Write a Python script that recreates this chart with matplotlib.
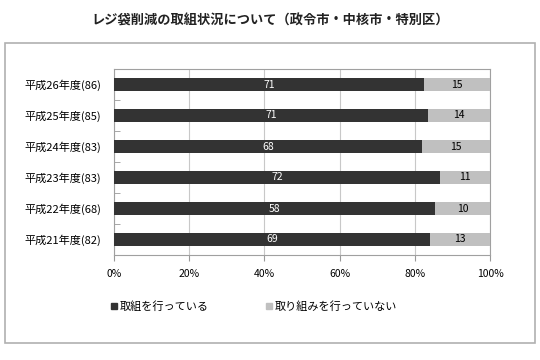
import matplotlib.pyplot as plt
from matplotlib.patches import Rectangle
from matplotlib.lines import Line2D

plt.rcParams['font.family'] = ['Noto Sans CJK JP', 'DejaVu Sans']

# data, top to bottom as in the chart
years = ["平成26年度(86)", "平成25年度(85)", "平成24年度(83)",
         "平成23年度(83)", "平成22年度(68)", "平成21年度(82)"]
doing = [71, 71, 68, 72, 58, 69]
not_doing = [15, 14, 15, 11, 10, 13]
series_names = ["取組を行っている", "取り組みを行っていない"]

DARK = "#333333"
LIGHT = "#c0c0c0"


def main():
    fig = plt.figure(figsize=(5.4, 3.6), dpi=100)
    fig.patches.append(Rectangle((5 / 540, 1 - 343 / 360), 530 / 540, 300 / 360,
                                 transform=fig.transFigure, fill=False,
                                 edgecolor="#b0b0b0", linewidth=1.2))
    fig.text(0.5, 1 - 21 / 360, "レジ袋削減の取組状況について（政令市・中核市・特別区）",
             ha="center", va="center", fontsize=9.5, fontweight="bold", color="#222222")

    ax = fig.add_axes([114 / 540, 1 - 255 / 360, 376 / 540, 186 / 360])

    n = len(years)
    ypos = list(range(n))[::-1]
    total = [a + b for a, b in zip(doing, not_doing)]
    p1 = [a / t * 100 for a, t in zip(doing, total)]
    p2 = [b / t * 100 for b, t in zip(not_doing, total)]

    ax.barh(ypos, p1, height=0.4, color=DARK, zorder=3)
    ax.barh(ypos, p2, left=p1, height=0.4, color=LIGHT, zorder=3)
    for y, a, b, v1, v2 in zip(ypos, p1, p2, doing, not_doing):
        ax.text(a / 2, y, str(v1), ha="center", va="center", color="white", fontsize=7.5, zorder=4)
        ax.text(a + b / 2, y, str(v2), ha="center", va="center", color="black", fontsize=7.5, zorder=4)

    ax.set_xlim(0, 100)
    ax.set_ylim(-0.5, n - 0.5)
    ax.set_xticks([0, 20, 40, 60, 80, 100])
    ax.set_xticklabels([f"{v}%" for v in [0, 20, 40, 60, 80, 100]], fontsize=7.5)
    ax.set_yticks(ypos)
    ax.set_yticklabels(years, fontsize=8)
    ax.set_yticks([i + 0.5 for i in range(n - 1)], minor=True)
    ax.tick_params(axis="y", which="major", length=0, pad=9)
    ax.tick_params(axis="y", which="minor", length=4, color="#999999", direction="in")
    ax.tick_params(axis="x", length=4, color="#999999", pad=6)
    ax.grid(axis="x", color="#c8c8c8", linewidth=0.8, zorder=0)
    for s in ax.spines.values():
        s.set_color("#a0a0a0")

    handles = [Line2D([], [], marker="s", linestyle="", color=c, markersize=5)
               for c in (DARK, LIGHT)]
    fig.legend(handles, series_names, loc="center left", ncol=2, frameon=False,
               bbox_to_anchor=(100 / 540, 1 - 307 / 360), fontsize=8,
               handletextpad=0.1, columnspacing=5.0, handlelength=0.8)

    fig.savefig("out.png", dpi=100)


if __name__ == "__main__":
    main()
